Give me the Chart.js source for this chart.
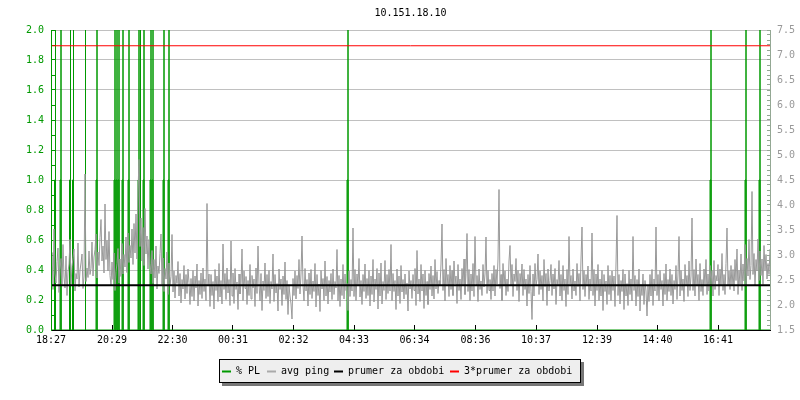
<!DOCTYPE html>
<html><head><meta charset="utf-8">
<script src="https://cdn.jsdelivr.net/npm/chart.js@4.4.1/dist/chart.umd.min.js"></script>
<style>html,body{margin:0;padding:0;background:#fff}#wrap{width:800px;height:400px;position:relative}</style>
</head><body><div id="wrap"><canvas id="c" width="800" height="400"></canvas></div>
<script>
const chartTitle = '10.151.18.10';
const seriesNames = ['% PL', 'avg ping', 'prumer za obdobi', '3*prumer za obdobi'];
const xTickMinutes = [0, 122, 243, 364, 485, 606, 727, 849, 970, 1092, 1213, 1334];
const xTickLabels = ['18:27', '20:29', '22:30', '00:31', '02:32', '04:33', '06:34', '08:36', '10:37', '12:39', '14:40', '16:41'];
const xMaxMinutes = 1438;
const pingStepMinutes = 2;
const pingValues = [
  2.48,3.05,2.31,3.52,2.62,2.44,2.87,3.14,2.25,2.71,2.93,2.38,3.21,2.56,2.34,2.98,2.19,2.66,2.82,3.31,
  2.41,2.77,2.95,3.12,2.28,2.63,2.52,3.24,2.36,2.69,2.84,3.02,2.33,2.58,4.62,2.47,2.74,2.55,3.08,2.61,
  2.73,3.26,2.58,2.96,3.11,3.42,2.54,3.06,2.79,3.35,3.71,2.88,3.18,2.64,4.02,2.91,3.29,2.68,3.47,2.59,
  2.38,2.86,2.51,3.04,2.29,2.67,2.83,3.13,2.44,2.92,2.57,3.23,2.62,3.01,2.76,3.36,2.65,3.44,2.85,3.19,
  2.94,3.52,2.81,3.63,3.04,3.82,2.92,4.28,4.91,3.17,3.74,2.88,3.55,2.79,3.93,3.02,3.38,2.72,3.31,2.83,
  2.62,3.09,2.43,2.91,2.54,3.18,2.32,2.78,2.63,3.03,3.42,2.41,2.94,2.27,2.73,2.52,3.06,2.21,2.84,2.39,
  2.57,3.41,2.26,2.68,2.14,2.59,2.43,2.87,2.18,2.63,2.04,2.51,2.32,2.79,2.12,2.61,2.23,2.72,2.45,2.01,
  2.53,2.17,2.69,2.08,2.58,2.34,2.82,1.98,2.49,2.21,2.64,2.13,2.74,2.27,2.52,2.09,4.03,2.38,2.62,1.97,
  2.61,2.19,2.47,1.92,2.71,2.29,2.58,2.07,2.83,2.16,2.49,2.02,3.22,2.31,2.63,2.11,2.74,2.24,2.51,1.99,
  3.28,2.18,2.64,2.03,2.73,2.31,2.46,1.91,2.62,2.22,2.41,3.12,2.09,2.68,2.33,2.57,2.01,2.49,2.19,2.81,
  2.12,2.59,2.34,2.52,1.97,2.74,2.23,3.18,2.42,2.08,2.63,1.89,2.48,2.29,2.84,2.13,2.61,2.17,2.69,2.03,
  2.47,2.32,3.02,2.07,2.61,2.24,2.43,1.88,2.72,2.31,2.52,1.99,2.58,2.21,2.86,2.11,2.49,1.81,2.38,2.18,
  2.02,1.72,2.53,2.19,2.68,2.12,2.59,2.33,2.91,2.22,2.62,3.38,2.41,2.08,2.73,2.28,2.51,1.98,2.64,2.21,
  2.71,2.13,2.48,2.27,2.83,1.96,2.61,2.19,2.42,1.87,2.69,2.32,2.53,2.09,2.88,2.18,2.57,2.02,2.49,2.26,
  2.63,2.11,2.72,2.21,2.47,2.34,3.11,2.08,2.59,1.97,2.52,2.19,2.81,2.12,2.62,2.29,2.43,1.89,2.68,2.17,
  2.51,2.28,3.54,2.17,2.71,2.09,2.62,2.38,2.93,2.16,2.49,2.01,2.61,2.27,2.82,2.13,2.53,2.19,2.69,1.98,
  2.58,2.21,2.91,2.06,2.52,2.31,2.73,1.92,2.64,2.18,2.84,2.02,2.47,2.29,2.89,2.11,2.61,2.23,2.71,2.28,
  3.21,2.09,2.63,2.27,2.49,1.91,2.72,2.18,2.58,2.03,2.79,2.26,2.51,2.12,2.62,2.21,2.44,1.88,2.68,2.32,
  2.49,2.13,2.61,2.29,2.73,1.99,3.09,2.22,2.52,2.07,2.81,2.28,2.62,1.93,2.69,2.19,2.47,2.01,2.63,2.31,
  2.78,2.18,2.59,2.12,2.91,2.32,2.67,2.23,2.49,2.38,2.82,3.62,2.29,2.71,2.08,2.93,2.41,2.61,2.17,2.79,
  2.31,2.69,2.19,2.88,2.42,2.58,2.03,2.81,2.29,2.52,2.11,2.73,2.38,2.92,2.21,2.63,3.43,2.27,2.71,2.09,
  2.62,2.28,2.83,2.17,3.37,2.41,2.59,2.07,2.72,2.31,2.48,2.19,2.81,2.36,2.62,3.36,2.23,2.69,2.29,2.51,
  2.11,2.63,2.28,2.79,2.18,2.71,2.42,2.92,4.31,2.33,2.61,2.09,2.83,2.39,2.68,2.19,2.52,2.27,2.88,3.19,
  2.38,2.81,2.17,2.62,2.47,2.93,2.29,2.69,2.07,2.63,2.41,2.82,2.19,2.71,2.31,2.52,1.98,2.61,2.23,2.79,
  2.27,1.71,2.62,2.18,2.83,2.39,2.51,3.02,2.21,2.68,2.31,2.59,2.08,2.91,2.37,2.63,1.99,2.72,2.28,2.49,
  2.81,2.19,2.62,2.32,2.73,2.01,2.51,2.38,2.89,2.18,2.61,2.09,2.79,2.29,2.52,1.97,2.71,2.21,3.37,2.41,
  2.59,2.12,2.72,2.28,2.48,2.19,2.83,2.37,2.63,2.08,2.92,3.56,2.31,2.69,2.17,2.61,2.39,2.78,2.11,2.52,
  2.28,3.44,2.19,2.71,1.98,2.62,2.29,2.81,2.09,2.52,2.18,2.69,1.89,2.61,2.27,2.48,2.01,2.79,2.21,2.59,
  2.09,2.68,2.29,2.58,1.97,2.82,3.79,2.19,2.61,2.02,2.49,2.27,2.71,1.91,2.62,2.18,2.43,1.99,2.69,2.21,
  2.52,2.08,3.37,2.29,2.59,1.98,2.51,2.17,2.72,1.88,2.41,2.19,2.62,2.01,2.49,2.28,1.78,2.38,2.07,2.61,
  2.18,2.71,1.99,2.52,2.28,3.56,2.19,2.61,2.08,2.69,2.31,2.49,1.98,2.63,2.21,2.82,2.09,2.51,2.27,2.72,
  2.19,2.61,2.02,2.49,2.31,2.79,2.11,2.62,3.37,2.18,2.69,2.29,2.52,2.07,2.81,2.38,2.59,2.17,2.88,2.29,
  2.58,3.74,2.29,2.71,2.18,2.92,2.39,2.61,2.09,2.83,2.27,2.51,2.19,2.72,2.41,2.91,2.21,2.62,2.28,2.79,
  2.41,2.69,2.18,2.89,2.31,2.59,2.48,2.81,2.19,2.72,2.38,3.03,2.29,2.61,2.21,2.83,3.54,2.39,2.68,2.31,
  2.79,2.38,2.71,2.28,2.91,2.49,3.12,2.21,2.69,2.41,3.02,2.29,2.82,2.48,3.21,2.39,2.93,2.58,3.31,2.51,
  2.79,4.27,2.61,3.03,2.38,2.91,2.68,3.32,2.49,3.08,2.59,2.92,2.41,3.19,2.69,3.01,2.52,2.83,2.61,3.12
];
const plMinutes = [
  0,
  7,7,9,9,9,
  18,18,20,20,20,
  37,37,39,39,39,
  43,43,45,45,45,
  69,69,69,
  90,90,92,92,92,
  126,126,128,128,128,
  130,130,132,132,132,
  134,134,136,136,136,
  142,142,144,144,144,
  154,154,156,156,156,
  174,174,176,176,176,
  179,179,179,
  184,184,186,186,186,
  198,198,200,200,200,
  202,202,204,204,204,
  224,224,226,226,226,
  234,234,236,236,236,
  592,592,594,594,594,
  1318,1318,1320,1320,1320,
  1388,1388,1390,1390,1390,
  1416,1416,1418,1418,1418,
  1438
];
const plValues = [
  0,
  0,1,1,100,0,
  0,1,1,100,0,
  0,1,1,100,0,
  0,1,1,100,0,
  0,100,0,
  0,1,1,100,0,
  0,1,1,100,0,
  0,1,1,100,0,
  0,1,1,100,0,
  0,1,1,100,0,
  0,1,1,100,0,
  0,1,1,100,0,
  0,100,0,
  0,1,1,100,0,
  0,1,1,100,0,
  0,1,1,100,0,
  0,1,1,100,0,
  0,1,1,100,0,
  0,1,1,100,0,
  0,1,1,100,0,
  0,1,1,100,0,
  0,1,1,100,0,
  0
];
const meanPing = 2.395;
const tripleMeanPing = 7.185;

const FONT = "'DejaVu Sans Mono', 'Liberation Mono', monospace";
const GREEN = '#009900';
const tickFont = {family: FONT, size: 10, lineHeight: 1.2, weight: 'normal'};

const plPoints = plMinutes.map((m, i) => ({x: m, y: plValues[i]}));
const pingPoints = pingValues.map((v, i) => ({x: i * pingStepMinutes, y: v}));
const meanPoints = [{x: 0, y: meanPing}, {x: xMaxMinutes, y: meanPing}];
const tripleMeanPoints = [{x: 0, y: tripleMeanPing}, {x: xMaxMinutes, y: tripleMeanPing}];

const legendColors = [GREEN, '#aaaaaa', '#000000', '#ff0000'];
const legendMarkerX = [222, 267, 334, 450];
const legendTextX = [236, 281, 348, 464];

const boxLegend = {
  id: 'boxLegend',
  afterDraw(chart) {
    const ctx = chart.ctx;
    ctx.save();
    ctx.fillStyle = '#777777';
    ctx.fillRect(222, 362, 362, 24);
    ctx.fillStyle = '#eeeeee';
    ctx.fillRect(219, 359, 362, 24);
    ctx.strokeStyle = '#000000';
    ctx.lineWidth = 1;
    ctx.strokeRect(219.5, 359.5, 361, 23);
    ctx.font = "10px " + FONT;
    ctx.textBaseline = 'alphabetic';
    ctx.textAlign = 'left';
    chart.data.datasets.forEach((ds, i) => {
      ctx.fillStyle = legendColors[i];
      ctx.fillRect(legendMarkerX[i], 370.5, 9, 2);
      ctx.fillStyle = '#000000';
      ctx.fillText(ds.label, legendTextX[i], 374);
    });
    ctx.restore();
  }
};

new Chart(document.getElementById('c'), {
  type: 'line',
  data: {
    datasets: [
      {label: seriesNames[0], data: plPoints, yAxisID: 'y', borderColor: GREEN, borderWidth: 1, pointRadius: 0, order: 4, tension: 0},
      {label: seriesNames[1], data: pingPoints, yAxisID: 'y1', borderColor: '#999999', borderWidth: 1, pointRadius: 0, order: 3, tension: 0},
      {label: seriesNames[2], data: meanPoints, yAxisID: 'y1', borderColor: '#000000', borderWidth: 2, pointRadius: 0, order: 1},
      {label: seriesNames[3], data: tripleMeanPoints, yAxisID: 'y1', borderColor: '#ff0000', borderWidth: 1, pointRadius: 0, order: 2}
    ]
  },
  options: {
    responsive: false,
    animation: false,
    events: [],
    layout: {padding: {left: 0, right: 0, top: 0, bottom: 50}},
    plugins: {
      legend: {display: false},
      tooltip: {enabled: false},
      title: {display: true, text: chartTitle, fullSize: false, color: '#000000',
        font: {family: FONT, size: 10, lineHeight: 1.2, weight: 'normal'}, padding: {top: 7, bottom: 11}}
    },
    scales: {
      x: {
        type: 'linear', min: 0, max: xMaxMinutes,
        afterBuildTicks: (s) => { s.ticks = xTickMinutes.map(v => ({value: v})); },
        ticks: {autoSkip: false, maxRotation: 0, color: '#000000', font: tickFont, padding: 9,
          callback: (v) => { const i = xTickMinutes.indexOf(v); return i >= 0 ? xTickLabels[i] : ''; }},
        grid: {drawOnChartArea: false, tickLength: -5, color: '#000000', tickColor: '#000000'},
        border: {color: '#000000', width: 1, z: 1},
        afterFit: (s) => { s.height = 20; }
      },
      y: {
        position: 'left', min: 0, max: 2,
        ticks: {stepSize: 0.1, autoSkip: false, color: GREEN, padding: 11, font: tickFont,
          callback: (v) => (Math.round(v * 10) % 2 === 0 ? Number(v).toFixed(1) : '')},
        grid: {color: (c) => (c.tick && Math.round(c.tick.value * 10) % 2 === 0 ? '#c0c0c0' : 'rgba(0,0,0,0)'),
          tickColor: GREEN, tickLength: -4, lineWidth: 1},
        border: {color: GREEN, width: 1, z: 1},
        afterFit: (s) => { s.width = 51; }
      },
      y1: {
        position: 'right', min: 1.5, max: 7.5,
        ticks: {stepSize: 0.1, autoSkip: false, color: '#999999', padding: 10, font: tickFont,
          callback: (v) => (Math.round(v * 10) % 5 === 0 ? Number(v).toFixed(1) : '')},
        grid: {drawOnChartArea: false, tickColor: '#94a894', tickLength: -3},
        border: {color: '#94a894', width: 1},
        afterFit: (s) => { s.width = 30; }
      }
    }
  },
  plugins: [boxLegend]
});
</script>
</body></html>
